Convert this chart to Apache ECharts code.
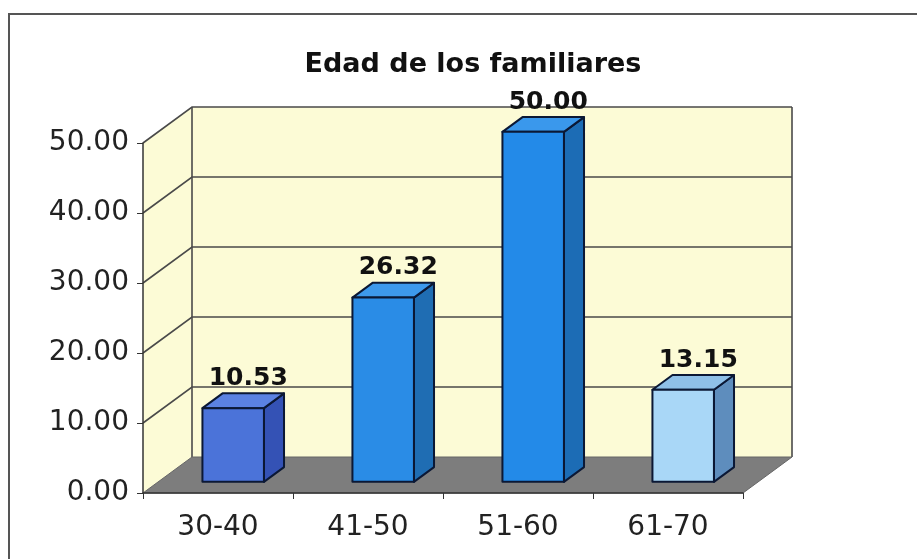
<!DOCTYPE html>
<html>
<head>
<meta charset="utf-8">
<title>Edad de los familiares</title>
<script src="https://cdn.jsdelivr.net/npm/echarts@6/dist/echarts.min.js"></script>
<style>
  html, body { margin: 0; padding: 0; background: #ffffff; }
  #chart { width: 917px; height: 559px; }
</style>
</head>
<body>
<div id="chart"></div>
<script>
// datos
var categories = ['30-40', '41-50', '51-60', '61-70'];
var values = [10.53, 26.32, 50.00, 13.15];
var yTicks = [0, 10, 20, 30, 40, 50];

// colores de cada barra (frente, lado, tapa)
var frontColors = ['#4b73d9', '#2a8ce6', '#238ae8', '#a9d7f7'];
var sideColors = ['#3452b5', '#1f6db3', '#1c6cb5', '#5e8dbd'];
var topColors = ['#5b82e2', '#3d99ec', '#3a98ec', '#8fc0e8'];

// profundidad 3D en pixeles
var depth = [49, -36];
var barFront = 0.31, barBack = 0.72;
var font = 'DejaVu Sans';

var myChart = echarts.init(document.getElementById('chart'));

function renderScene(params, api) {
    var catW = api.size([1, 0])[0];
    var p0 = api.coord([0, yTicks[0]]);
    var x0 = p0[0] - catW / 2;
    var x1 = x0 + catW * categories.length;
    var yBase = p0[1];
    var yTop = api.coord([0, yTicks[yTicks.length - 1]])[1];
    var dx = depth[0], dy = depth[1];
    var grid = '#4a4a4a';
    var kids = [];
    // pared izquierda
    kids.push({
        type: 'polygon',
        shape: { points: [[x0, yBase], [x0, yTop], [x0 + dx, yTop + dy], [x0 + dx, yBase + dy]] },
        style: { fill: '#fcfbd6' }
    });
    // pared de fondo
    kids.push({
        type: 'rect',
        shape: { x: x0 + dx, y: yTop + dy, width: x1 - x0, height: yBase - yTop },
        style: { fill: '#fcfbd6' }
    });
    // lineas de division
    for (var i = 1; i < yTicks.length; i++) {
        var y = api.coord([0, yTicks[i]])[1];
        kids.push({
            type: 'polyline',
            shape: { points: [[x0, y], [x0 + dx, y + dy], [x1 + dx, y + dy]] },
            style: { stroke: grid, lineWidth: 1.6, fill: null }
        });
    }
    kids.push({
        type: 'line',
        shape: { x1: x0 + dx, y1: yBase + dy, x2: x0 + dx, y2: yTop + dy },
        style: { stroke: grid, lineWidth: 1.6 }
    });
    kids.push({
        type: 'line',
        shape: { x1: x1 + dx, y1: yBase + dy, x2: x1 + dx, y2: yTop + dy },
        style: { stroke: grid, lineWidth: 1.6 }
    });
    // piso
    kids.push({
        type: 'polygon',
        shape: { points: [[x0, yBase], [x1, yBase], [x1 + dx, yBase + dy], [x0 + dx, yBase + dy]] },
        style: { fill: '#7d7d7d', stroke: '#666666', lineWidth: 1 }
    });
    return { type: 'group', children: kids };
}

function renderBar(params, api) {
    var idx = api.value(0);
    var val = api.value(1);
    var catW = api.size([1, 0])[0];
    var base = api.coord([idx, 0]);
    var top = api.coord([idx, val]);
    var hw = catW * 0.205;
    var dx = depth[0], dy = depth[1];
    var ox = barFront * dx, oy = barFront * dy;
    var ddx = (barBack - barFront) * dx, ddy = (barBack - barFront) * dy;
    var xl = base[0] - hw + ox, xr = base[0] + hw + ox;
    var yb = base[1] + oy, yt = top[1] + oy;
    var line = { stroke: '#0b1835', lineWidth: 2, lineJoin: 'round' };
    var i = params.dataIndex;
    return {
        type: 'group',
        children: [
            {
                type: 'polygon',
                shape: { points: [[xr, yb], [xr, yt], [xr + ddx, yt + ddy], [xr + ddx, yb + ddy]] },
                style: Object.assign({ fill: sideColors[i] }, line)
            },
            {
                type: 'polygon',
                shape: { points: [[xl, yt], [xr, yt], [xr + ddx, yt + ddy], [xl + ddx, yt + ddy]] },
                style: Object.assign({ fill: topColors[i] }, line)
            },
            {
                type: 'rect',
                shape: { x: xl, y: yt, width: xr - xl, height: yb - yt },
                style: Object.assign({ fill: frontColors[i] }, line)
            },
            {
                type: 'text',
                x: (xl + xr + ddx) / 2 + 5,
                y: yt + ddy - 15,
                style: {
                    text: val.toFixed(2),
                    fontFamily: font,
                    fontWeight: 'bold',
                    fontSize: 25,
                    fill: '#111111',
                    align: 'center',
                    verticalAlign: 'middle'
                }
            }
        ]
    };
}

var barData = [];
for (var k = 0; k < values.length; k++) {
    barData.push([k, values[k]]);
}

var option = {
    backgroundColor: '#ffffff',
    animation: false,
    title: {
        text: 'Edad de los familiares',
        left: 468,
        top: 46,
        textAlign: 'center',
        textStyle: { fontFamily: font, fontWeight: 'bold', fontSize: 27, color: '#111111' }
    },
    graphic: [{
        type: 'rect',
        shape: { x: 9, y: 14, width: 930, height: 560 },
        style: { fill: null, stroke: '#555555', lineWidth: 2 },
        z: 100
    }],
    grid: { left: 143, top: 143, width: 600, height: 350 },
    xAxis: {
        type: 'category',
        data: categories,
        z: 10,
        axisLine: { lineStyle: { color: '#333333', width: 1.5 } },
        axisTick: { show: true, length: 6, lineStyle: { color: '#333333' } },
        axisLabel: { fontFamily: font, fontSize: 28, color: '#222222', margin: 21 }
    },
    yAxis: {
        type: 'value',
        min: 0,
        max: 50,
        interval: 10,
        z: 10,
        axisLine: { show: true, lineStyle: { color: '#333333', width: 1.5 } },
        axisTick: { show: true, length: 6, lineStyle: { color: '#333333' } },
        splitLine: { show: false },
        axisLabel: {
            fontFamily: font,
            fontSize: 28,
            color: '#222222',
            margin: 14,
            formatter: function (v) { return v.toFixed(2); }
        }
    },
    series: [
        {
            type: 'custom',
            name: 'escena',
            renderItem: renderScene,
            data: [[0, 0]],
            silent: true,
            z: 1
        },
        {
            type: 'custom',
            name: 'Edad',
            renderItem: renderBar,
            data: barData,
            z: 3
        }
    ]
};
myChart.setOption(option);
</script>
</body>
</html>
